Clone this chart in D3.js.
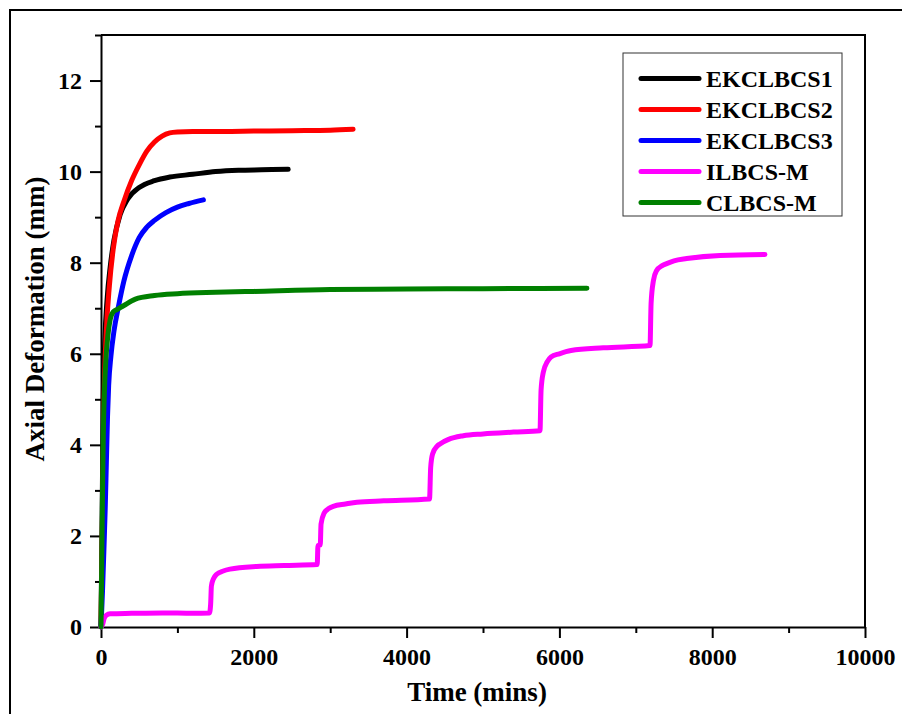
<!DOCTYPE html>
<html>
<head>
<meta charset="utf-8">
<script src="https://cdn.jsdelivr.net/npm/d3@7"></script>
<style>
  body { margin: 0; background: #fff; }
  text { font-family: "Liberation Serif", "Times New Roman", serif; font-weight: bold; fill: #000; }
</style>
</head>
<body>
<div id="chart"></div>
<script>
// series data: time (mins) and axial deformation (mm)
var ek1_t = [0, 15, 30, 50, 80, 120, 170, 250, 350, 500, 700, 900, 1200, 1500, 1800, 2100, 2450]
var ek1_v = [0, 2.5, 5, 6.3, 7.2, 7.9, 8.5, 9.05, 9.4, 9.65, 9.8, 9.88, 9.94, 10.0, 10.03, 10.04, 10.05]

var ek2_t = [0, 20, 40, 70, 110, 160, 220, 300, 400, 500, 600, 700, 800, 900, 1000, 1200, 1600, 2000, 2500, 3000, 3300]
var ek2_v = [0, 2.5, 5, 6.5, 7.5, 8.3, 8.9, 9.35, 9.8, 10.15, 10.45, 10.65, 10.78, 10.85, 10.87, 10.88, 10.88, 10.89, 10.9, 10.91, 10.93]

var ek3_t = [0, 20, 40, 55, 70, 85, 100, 130, 170, 230, 300, 400, 500, 600, 700, 850, 1000, 1150, 1340]
var ek3_v = [0, 0.8, 1.8, 2.6, 3.6, 4.6, 5.3, 5.95, 6.5, 7.05, 7.6, 8.15, 8.55, 8.78, 8.93, 9.1, 9.22, 9.3, 9.38]

var il_t = [0, 20, 40, 70, 120, 400, 800, 1200, 1420, 1435, 1445, 1470, 1514, 1600, 1688, 2038, 2400, 2830,
  2840, 2870, 2880, 2920, 2980, 3040, 3200, 3350, 3700, 4300, 4315, 4340, 4400, 4437, 4550, 4742, 5000, 5400,
  5746, 5760, 5790, 5840, 5890, 6000, 6152, 6575, 7186, 7200, 7230, 7273, 7340, 7404, 7500, 7666, 8102, 8690]
var il_v = [0, 0.05, 0.18, 0.26, 0.29, 0.3, 0.31, 0.3, 0.31, 0.5, 0.9, 1.05, 1.16, 1.23, 1.27, 1.33, 1.35, 1.37,
  1.79, 1.8, 2.26, 2.5, 2.6, 2.65, 2.7, 2.74, 2.77, 2.81, 3.5, 3.8, 3.97, 4.02, 4.12, 4.2, 4.24, 4.28,
  4.31, 5.2, 5.6, 5.82, 5.93, 6.0, 6.07, 6.13, 6.18, 7.1, 7.6, 7.83, 7.93, 7.98, 8.04, 8.09, 8.16, 8.18]

var cl_t = [0, 10, 20, 30, 45, 65, 90, 120, 160, 220, 300, 450, 700, 1000, 1500, 2000, 3000, 4000, 5000, 6360]
var cl_v = [0, 1.5, 3, 4.2, 5.2, 5.9, 6.4, 6.75, 6.92, 6.98, 7.06, 7.2, 7.28, 7.32, 7.35, 7.37, 7.41, 7.42, 7.43, 7.44]

var seriesNames = ['EKCLBCS1', 'EKCLBCS2', 'EKCLBCS3', 'ILBCS-M', 'CLBCS-M']
var seriesColors = ['#000000', '#ff0000', '#0000ff', '#ff00ff', '#008000']
var seriesT = [ek1_t, ek2_t, ek3_t, il_t, cl_t]
var seriesV = [ek1_v, ek2_v, ek3_v, il_v, cl_v]

var xTicks = [0, 2000, 4000, 6000, 8000, 10000]
var xMinor = [1000, 3000, 5000, 7000, 9000]
var yTicks = [0, 2, 4, 6, 8, 10, 12]
var yMinor = [1, 3, 5, 7, 9, 11, 13]

var width = 902, height = 714
var margin = { top: 35, right: 37, bottom: 87, left: 101 }
var w = width - margin.left - margin.right
var h = height - margin.top - margin.bottom

var svg = d3.select('#chart').append('svg')
  .attr('width', width)
  .attr('height', height)

svg.append('rect').attr('width', width).attr('height', height).attr('fill', '#fff')

// outer frame (image is cropped on right and bottom)
svg.append('path')
  .attr('d', 'M10,' + height + 'V10H' + width)
  .attr('fill', 'none').attr('stroke', '#000').attr('stroke-width', 2)

var g = svg.append('g').attr('transform', 'translate(' + margin.left + ',' + margin.top + ')')

var x = d3.scaleLinear().domain([0, 10000]).range([0, w])
var y = d3.scaleLinear().domain([0, 13]).range([h, 0])

// axes
var xAxis = g.append('g').attr('transform', 'translate(0,' + h + ')')
  .call(d3.axisBottom(x).tickValues(xTicks).tickFormat(d3.format('d')).tickSize(11).tickPadding(10).tickSizeOuter(0))
var xMin = g.append('g').attr('transform', 'translate(0,' + h + ')')
  .call(d3.axisBottom(x).tickValues(xMinor).tickSize(6).tickFormat('').tickSizeOuter(0))
var yAxis = g.append('g')
  .call(d3.axisLeft(y).tickValues(yTicks).tickFormat(d3.format('d')).tickSize(11).tickPadding(8).tickSizeOuter(0))
var yMin = g.append('g')
  .call(d3.axisLeft(y).tickValues(yMinor).tickSize(6).tickFormat('').tickSizeOuter(0))

g.selectAll('.domain').attr('stroke-width', 2)
g.selectAll('.tick line').attr('stroke-width', 2)
g.selectAll('.tick text').style('font-size', '24px').style('font-family', '"Liberation Serif", serif').style('font-weight', 'bold')
yMin.select('.domain').remove()
xMin.select('.domain').remove()

// top and right frame lines
g.append('path')
  .attr('d', 'M0,0H' + w + 'V' + h)
  .attr('fill', 'none').attr('stroke', '#000').attr('stroke-width', 2)

// curves
var line = d3.line()
  .x(d => x(d[0]))
  .y(d => y(d[1]))
  .curve(d3.curveMonotoneX)

for (var i = 0; i < seriesNames.length; i++) {
  var pts = seriesT[i].map((t, k) => [t, seriesV[i][k]])
  g.append('path')
    .datum(pts)
    .attr('class', 'series')
    .attr('d', line)
    .attr('fill', 'none')
    .attr('stroke', seriesColors[i])
    .attr('stroke-width', 5)
    .attr('stroke-linecap', 'round')
    .attr('stroke-linejoin', 'round')
}

// legend
var lg = svg.append('g').attr('transform', 'translate(623,53)')
lg.append('rect')
  .attr('width', 219).attr('height', 163)
  .attr('fill', '#fff').attr('stroke', '#333').attr('stroke-width', 1)
seriesNames.forEach(function(name, i) {
  var yy = 25.5 + i * 31
  lg.append('line')
    .attr('x1', 18).attr('x2', 76)
    .attr('y1', yy).attr('y2', yy)
    .attr('stroke', seriesColors[i])
    .attr('stroke-width', 5)
    .attr('stroke-linecap', 'round')
  lg.append('text')
    .attr('x', 83).attr('y', yy + 8)
    .style('font-size', '24px')
    .text(name)
})

// axis titles
svg.append('text')
  .attr('x', 477).attr('y', 701)
  .attr('text-anchor', 'middle')
  .style('font-size', '27px')
  .text('Time (mins)')

svg.append('text')
  .attr('transform', 'translate(44,319) rotate(-90)')
  .attr('text-anchor', 'middle')
  .style('font-size', '27px')
  .text('Axial Deformation (mm)')
</script>
</body>
</html>
